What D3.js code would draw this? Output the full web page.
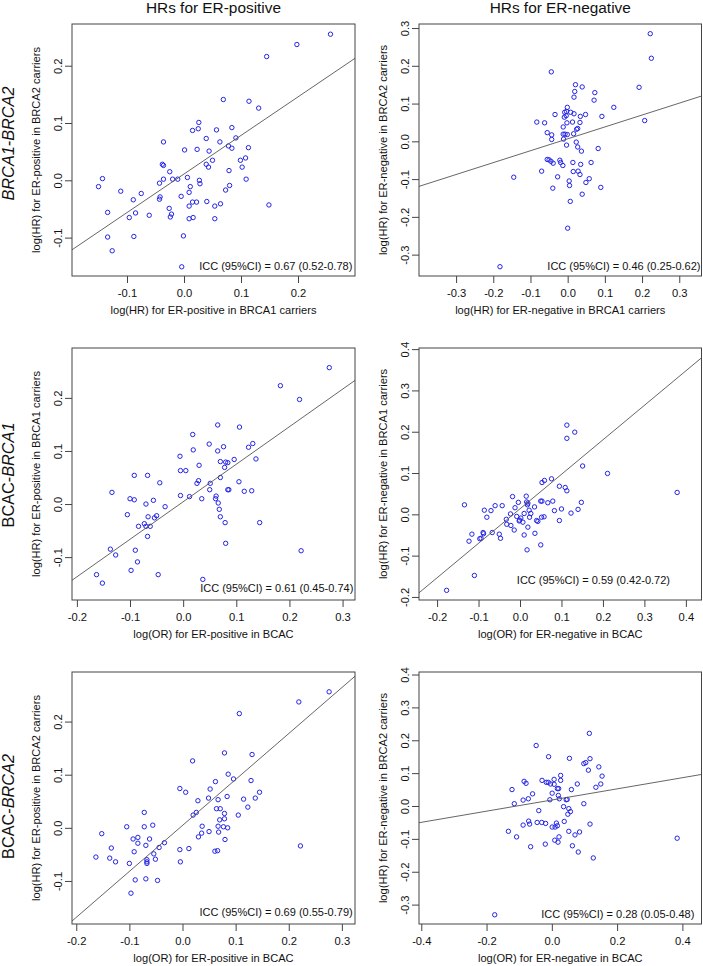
<!DOCTYPE html>
<html><head><meta charset="utf-8">
<script src="https://cdn.jsdelivr.net/npm/d3@7"></script>
<style>
body{margin:0;background:#fff}
svg{display:block}
text{font-family:"Liberation Sans",Arial,Helvetica,sans-serif;fill:#111}
</style>
</head><body>
<svg id="c" width="703" height="966"></svg>
<script>
// ---------------- DATA ----------------
const columnTitles = ["HRs for ER-positive", "HRs for ER-negative"];
const rowLabels = [
  [{t:"BRCA1-BRCA2", i:true}],
  [{t:"BCAC-", i:false},{t:"BRCA1", i:true}],
  [{t:"BCAC-", i:false},{t:"BRCA2", i:true}]
];
const xTitles = [
  "log(HR) for ER-positive in BRCA1 carriers","log(HR) for ER-negative in BRCA1 carriers",
  "log(OR) for ER-positive in BCAC","log(OR) for ER-negative in BCAC",
  "log(OR) for ER-positive in BCAC","log(OR) for ER-negative in BCAC"
];
const yTitles = [
  "log(HR) for ER-positive in BRCA2 carriers","log(HR) for ER-negative in BRCA2 carriers",
  "log(HR) for ER-positive in BRCA1 carriers","log(HR) for ER-negative in BRCA1 carriers",
  "log(HR) for ER-positive in BRCA2 carriers","log(HR) for ER-negative in BRCA2 carriers"
];
const iccLabels = [
  "ICC (95%CI) = 0.67 (0.52-0.78)","ICC (95%CI) = 0.46 (0.25-0.62)",
  "ICC (95%CI) = 0.61 (0.45-0.74)","ICC (95%CI) = 0.59 (0.42-0.72)",
  "ICC (95%CI) = 0.69 (0.55-0.79)","ICC (95%CI) = 0.28 (0.05-0.48)"
];
const xLimits = [[-0.1965,0.300],[-0.3997,0.3598],[-0.2092,0.3234],[-0.2436,0.4377],[-0.2080,0.3247],[-0.4070,0.4586]];
const yLimits = [[-0.1670,0.2728],[-0.3566,0.3107],[-0.1808,0.2940],[-0.2074,0.4027],[-0.1810,0.2933],[-0.3590,0.4077]];
const xTickValues = [
  [-0.1,0,0.1,0.2],[-0.3,-0.2,-0.1,0,0.1,0.2,0.3],
  [-0.2,-0.1,0,0.1,0.2,0.3],[-0.2,-0.1,0,0.1,0.2,0.3,0.4],
  [-0.2,-0.1,0,0.1,0.2,0.3],[-0.4,-0.2,0,0.2,0.4]
];
const yTickValues = [
  [-0.1,0,0.1,0.2],[-0.3,-0.2,-0.1,0,0.1,0.2,0.3],
  [-0.1,0,0.1,0.2],[-0.2,-0.1,0,0.1,0.2,0.3,0.4],
  [-0.1,0,0.1,0.2],[-0.3,-0.2,-0.1,0,0.1,0.2,0.3,0.4]
];
const fitIntercept = [0.011, 0.0066, 0.0043, 0.0134, 0.0045, 0.0182];
const fitSlope     = [0.673, 0.315, 0.707, 0.835, 0.865, 0.1697];

const ptsBRCA1BRCA2pos = [[0.257,0.255],[0.198,0.237],[0.145,0.216],[0.069,0.141],[0.114,0.138],[0.131,0.126],[0.026,0.101],[0.015,0.087],[0.025,0.090],[0.057,0.088],[0.084,0.092],[0.039,0.073],[0.091,0.074],[-0.036,0.067],[0.063,0.067],[0.078,0.060],[0.084,0.056],[0.113,0.057],[0.001,0.053],[0.023,0.054],[0.044,0.051],[0.050,0.035],[0.099,0.035],[0.108,0.039],[0.039,0.028],[0.043,0.023],[0.102,0.023],[-0.038,0.028],[-0.036,0.026],[-0.025,0.015],[0.079,0.017],[-0.143,0.003],[-0.150,-0.011],[-0.111,-0.019],[-0.075,-0.023],[-0.089,-0.034],[-0.043,-0.005],[-0.036,0.002],[-0.020,0.002],[-0.011,0.002],[0.006,0.005],[0.027,0.000],[0.028,-0.006],[0.109,0.002],[0.011,-0.011],[0.009,-0.021],[0.080,-0.009],[0.073,-0.017],[-0.005,-0.028],[-0.042,-0.029],[-0.043,-0.033],[0.015,-0.038],[0.022,-0.038],[0.040,-0.037],[0.009,-0.045],[0.054,-0.045],[0.064,-0.041],[0.149,-0.043],[-0.134,-0.056],[-0.085,-0.057],[-0.096,-0.065],[-0.061,-0.061],[-0.026,-0.049],[-0.022,-0.059],[-0.024,-0.064],[0.009,-0.067],[0.016,-0.065],[0.054,-0.067],[-0.134,-0.099],[-0.088,-0.098],[-0.001,-0.097],[-0.126,-0.123],[-0.004,-0.151]];

const ptsBRCA1BRCA2neg = [[0.222,0.285],[0.225,0.220],[-0.044,0.184],[0.192,0.143],[0.021,0.150],[0.039,0.144],[0.019,0.132],[0.073,0.129],[0.017,0.117],[0.071,0.109],[0.124,0.090],[-0.001,0.090],[-0.003,0.079],[0.008,0.077],[-0.008,0.077],[0.017,0.073],[-0.034,0.071],[0.048,0.071],[-0.004,0.068],[0.034,0.066],[0.092,0.066],[-0.009,0.064],[-0.083,0.051],[-0.062,0.049],[0.013,0.051],[0.033,0.050],[-0.002,0.049],[0.207,0.055],[-0.012,0.038],[0.027,0.034],[0.024,0.032],[-0.055,0.023],[-0.043,0.017],[-0.012,0.019],[-0.007,0.019],[-0.001,0.018],[0.016,0.020],[-0.043,0.005],[-0.011,0.006],[0.023,-0.002],[-0.003,-0.010],[0.027,-0.015],[0.082,-0.019],[0.037,-0.026],[-0.055,-0.048],[-0.050,-0.049],[-0.045,-0.053],[-0.039,-0.058],[-0.021,-0.050],[-0.019,-0.056],[-0.013,-0.064],[0.014,-0.056],[0.035,-0.061],[0.063,-0.056],[-0.070,-0.079],[-0.027,-0.094],[0.015,-0.080],[0.028,-0.079],[0.033,-0.088],[0.058,-0.099],[0.049,-0.109],[0.004,-0.105],[0.005,-0.117],[-0.145,-0.095],[-0.040,-0.124],[0.089,-0.122],[0.039,-0.140],[0.007,-0.159],[0.000,-0.230],[-0.182,-0.332]];

const ptsBCACBRCA1pos = [[0.275,0.257],[0.183,0.223],[0.219,0.197],[0.065,0.149],[0.106,0.145],[0.018,0.131],[0.049,0.113],[0.076,0.108],[0.123,0.107],[0.131,0.114],[0.019,0.102],[0.065,0.100],[-0.006,0.090],[0.096,0.084],[0.137,0.085],[0.070,0.080],[0.080,0.079],[0.084,0.078],[0.030,0.073],[0.078,0.069],[-0.005,0.063],[0.005,0.063],[-0.092,0.054],[-0.067,0.054],[0.070,0.050],[-0.044,0.040],[0.029,0.044],[0.026,0.039],[0.051,0.039],[0.105,0.042],[-0.134,0.022],[0.050,0.027],[0.084,0.027],[0.086,0.027],[0.115,0.024],[0.129,0.025],[-0.005,0.016],[0.012,0.014],[0.062,0.015],[-0.100,0.010],[-0.092,0.008],[-0.056,0.007],[0.035,0.010],[0.061,0.010],[-0.070,0.000],[0.066,0.002],[-0.034,-0.005],[0.068,-0.010],[-0.105,-0.020],[-0.066,-0.024],[-0.050,-0.022],[-0.054,-0.026],[0.070,-0.024],[-0.073,-0.037],[-0.070,-0.042],[-0.084,-0.042],[-0.062,-0.042],[0.079,-0.035],[0.144,-0.035],[-0.067,-0.061],[0.080,-0.074],[-0.137,-0.085],[-0.090,-0.087],[-0.127,-0.096],[-0.086,-0.109],[-0.098,-0.125],[0.222,-0.088],[-0.163,-0.133],[-0.047,-0.133],[-0.152,-0.149],[0.037,-0.142]];

const ptsBCACBRCA1neg = [[0.113,0.216],[0.132,0.199],[0.113,0.184],[0.151,0.117],[0.211,0.099],[0.076,0.086],[0.059,0.082],[0.053,0.077],[0.095,0.068],[0.109,0.065],[0.113,0.057],[0.379,0.053],[0.016,0.030],[-0.018,0.043],[0.015,0.044],[0.050,0.032],[0.053,0.032],[0.067,0.028],[0.079,0.032],[0.148,0.029],[-0.004,0.029],[0.018,0.023],[0.019,0.027],[-0.134,0.023],[-0.060,0.021],[-0.043,0.021],[0.035,0.018],[-0.012,0.016],[0.100,0.013],[0.140,0.012],[-0.086,0.010],[-0.070,0.009],[0.083,0.009],[0.123,0.003],[0.010,0.002],[-0.023,0.001],[0.026,0.002],[0.022,0.010],[-0.080,-0.007],[-0.008,-0.005],[0.023,-0.007],[0.052,-0.007],[0.058,-0.006],[-0.033,-0.012],[0.002,-0.009],[-0.002,-0.016],[-0.001,-0.014],[0.007,-0.019],[0.040,-0.015],[0.043,-0.017],[0.095,-0.015],[-0.032,-0.024],[-0.022,-0.027],[-0.014,-0.038],[0.019,-0.031],[-0.089,-0.044],[-0.088,-0.047],[-0.067,-0.044],[-0.050,-0.048],[-0.047,-0.058],[-0.116,-0.048],[-0.097,-0.059],[-0.094,-0.058],[-0.123,-0.065],[0.010,-0.050],[0.036,-0.046],[0.017,-0.086],[0.050,-0.074],[-0.110,-0.148],[-0.177,-0.184]];

const ptsBCACBRCA2pos = [[0.276,0.256],[0.219,0.237],[0.107,0.215],[0.079,0.141],[0.131,0.138],[0.019,0.126],[0.086,0.101],[0.096,0.092],[0.062,0.087],[0.129,0.089],[-0.005,0.074],[0.052,0.073],[0.006,0.067],[0.145,0.067],[0.084,0.059],[0.049,0.056],[0.029,0.051],[0.067,0.053],[0.115,0.054],[0.137,0.056],[0.123,0.039],[0.064,0.036],[0.071,0.036],[-0.072,0.029],[0.026,0.029],[0.020,0.024],[0.079,0.027],[0.105,0.024],[0.070,0.015],[0.079,0.017],[-0.056,0.005],[-0.072,0.002],[-0.105,0.002],[0.037,0.003],[0.067,0.003],[0.077,0.002],[0.085,0.000],[-0.152,-0.011],[-0.062,-0.021],[-0.093,-0.021],[-0.084,-0.018],[-0.084,-0.029],[0.036,-0.010],[0.050,-0.007],[0.068,-0.008],[0.030,-0.017],[0.080,-0.022],[-0.069,-0.033],[-0.034,-0.028],[-0.044,-0.037],[-0.134,-0.038],[-0.091,-0.045],[-0.005,-0.041],[0.012,-0.039],[0.061,-0.044],[0.066,-0.043],[-0.054,-0.049],[-0.163,-0.055],[-0.137,-0.057],[-0.126,-0.064],[-0.100,-0.067],[-0.067,-0.060],[-0.067,-0.064],[-0.051,-0.059],[-0.067,-0.067],[-0.004,-0.064],[0.222,-0.034],[-0.089,-0.098],[-0.069,-0.096],[-0.047,-0.099],[-0.097,-0.123]];

const ptsBCACBRCA2neg = [[0.115,0.221],[-0.048,0.184],[-0.010,0.150],[0.054,0.145],[0.117,0.144],[0.098,0.129],[0.104,0.132],[0.144,0.119],[0.112,0.109],[0.154,0.091],[0.027,0.093],[0.027,0.078],[-0.030,0.078],[-0.085,0.075],[-0.079,0.069],[-0.017,0.072],[-0.011,0.072],[0.007,0.081],[0.007,0.066],[-0.004,0.067],[0.078,0.067],[0.150,0.067],[-0.122,0.050],[0.017,0.053],[0.021,0.053],[0.060,0.050],[0.135,0.057],[-0.059,0.037],[0.001,0.039],[0.020,0.032],[-0.072,0.022],[-0.088,0.018],[-0.006,0.019],[0.023,0.022],[0.044,0.019],[0.047,0.020],[-0.115,0.007],[0.098,0.007],[0.036,-0.002],[-0.040,-0.014],[0.052,-0.008],[0.057,-0.017],[0.049,-0.025],[-0.071,-0.046],[-0.068,-0.055],[-0.088,-0.058],[-0.045,-0.050],[-0.031,-0.050],[-0.019,-0.053],[0.014,-0.052],[0.038,-0.047],[0.117,-0.055],[0.017,-0.060],[0.010,-0.064],[0.001,-0.064],[-0.133,-0.077],[0.052,-0.077],[0.085,-0.079],[0.071,-0.088],[-0.108,-0.094],[0.022,-0.094],[0.009,-0.104],[0.019,-0.110],[-0.020,-0.116],[-0.065,-0.124],[0.063,-0.121],[0.081,-0.140],[0.127,-0.158],[0.384,-0.098],[-0.175,-0.331]];

const panelPoints = [ptsBRCA1BRCA2pos, ptsBRCA1BRCA2neg, ptsBCACBRCA1pos, ptsBCACBRCA1neg, ptsBCACBRCA2pos, ptsBCACBRCA2neg];

// ---------------- LAYOUT ----------------
const colX = [[72,355],[419,701.5]];
const rowY = [[24,276],[348,600],[672,924]];
// ICC label: right end offset from box right, baseline offset from box bottom
const iccPos = [[-2.7,-6],[-1,-6],[-1.7,-8.3],[-31.5,-16],[-2.3,-8.3],[-7.2,-6.3]];
const rowLabelCenter = [143.5, 475, 806.5];
const font = '"Liberation Sans",Arial,Helvetica,sans-serif';

const svg = d3.select("#c");
const fmt = v => (Math.abs(v) < 1e-9 ? "0.0" : v.toFixed(1));

// column titles
columnTitles.forEach((t,c) => {
  svg.append("text").attr("x",(colX[c][0]+colX[c][1])/2).attr("y",13)
    .attr("text-anchor","middle").attr("font-size",15.4).text(t);
});

// row labels
rowLabels.forEach((parts,r) => {
  const t = svg.append("text")
    .attr("transform",`translate(13.5,${rowLabelCenter[r]}) rotate(-90)`)
    .attr("text-anchor","middle").attr("font-size",16.3);
  parts.forEach(p => t.append("tspan").attr("font-style",p.i?"italic":"normal").text(p.t));
});

const defs = svg.append("defs");

panelPoints.forEach((pts,i) => {
  const r = Math.floor(i/2), c = i%2;
  const [x0,x1] = colX[c], [y0,y1] = rowY[r];
  const xs = d3.scaleLinear().domain(xLimits[i]).range([x0,x1]);
  const ys = d3.scaleLinear().domain(yLimits[i]).range([y1,y0]);
  const g = svg.append("g");

  defs.append("clipPath").attr("id","clip"+i).append("rect")
    .attr("x",x0).attr("y",y0).attr("width",x1-x0).attr("height",y1-y0);

  // points
  g.append("g").selectAll("circle").data(pts).join("circle")
    .attr("cx",d=>xs(d[0])).attr("cy",d=>ys(d[1])).attr("r",2.2)
    .attr("fill","none").attr("stroke","#2424e6").attr("stroke-width",1);

  // regression line
  const xa = xLimits[i][0], xb = xLimits[i][1];
  g.append("line").attr("clip-path",`url(#clip${i})`)
    .attr("x1",xs(xa)).attr("y1",ys(fitIntercept[i]+fitSlope[i]*xa))
    .attr("x2",xs(xb)).attr("y2",ys(fitIntercept[i]+fitSlope[i]*xb))
    .attr("stroke","#555").attr("stroke-width",0.9);

  // box
  g.append("rect").attr("x",x0).attr("y",y0).attr("width",x1-x0).attr("height",y1-y0)
    .attr("fill","none").attr("stroke","#444").attr("stroke-width",1);

  // x axis
  const gx = g.append("g").attr("transform",`translate(0,${y1})`)
    .call(d3.axisBottom(xs).tickValues(xTickValues[i]).tickFormat(fmt)
      .tickSize(7).tickSizeOuter(0).tickPadding(6.5));
  gx.select(".domain").remove();
  gx.selectAll("line").attr("stroke","#444");
  gx.selectAll("text").attr("font-size",11.2).attr("font-family",font).attr("fill","#111");
  gx.attr("font-family",null).attr("font-size",null);

  // y axis
  const gy = g.append("g").attr("transform",`translate(${x0},0)`)
    .call(d3.axisLeft(ys).tickValues(yTickValues[i]).tickFormat(fmt)
      .tickSize(7).tickSizeOuter(0));
  gy.select(".domain").remove();
  gy.selectAll("line").attr("stroke","#444");
  gy.selectAll("text").attr("x",null).attr("dy",null).attr("y",null)
    .attr("text-anchor","middle").attr("transform","translate(-10.2,0) rotate(-90)")
    .attr("font-size",11.2).attr("font-family",font).attr("fill","#111");
  gy.attr("font-family",null).attr("font-size",null);

  // axis titles
  g.append("text").attr("x",(x0+x1)/2).attr("y",y1+38).attr("text-anchor","middle")
    .attr("font-size",11.1).text(xTitles[i]);
  g.append("text").attr("transform",`translate(${x0-32},${(y0+y1)/2}) rotate(-90)`)
    .attr("text-anchor","middle").attr("font-size",11.1).text(yTitles[i]);

  // ICC annotation
  g.append("text").attr("x",x1+iccPos[i][0]).attr("y",y1+iccPos[i][1])
    .attr("text-anchor","end").attr("font-size",11).text(iccLabels[i]);
});
</script>
</body></html>
